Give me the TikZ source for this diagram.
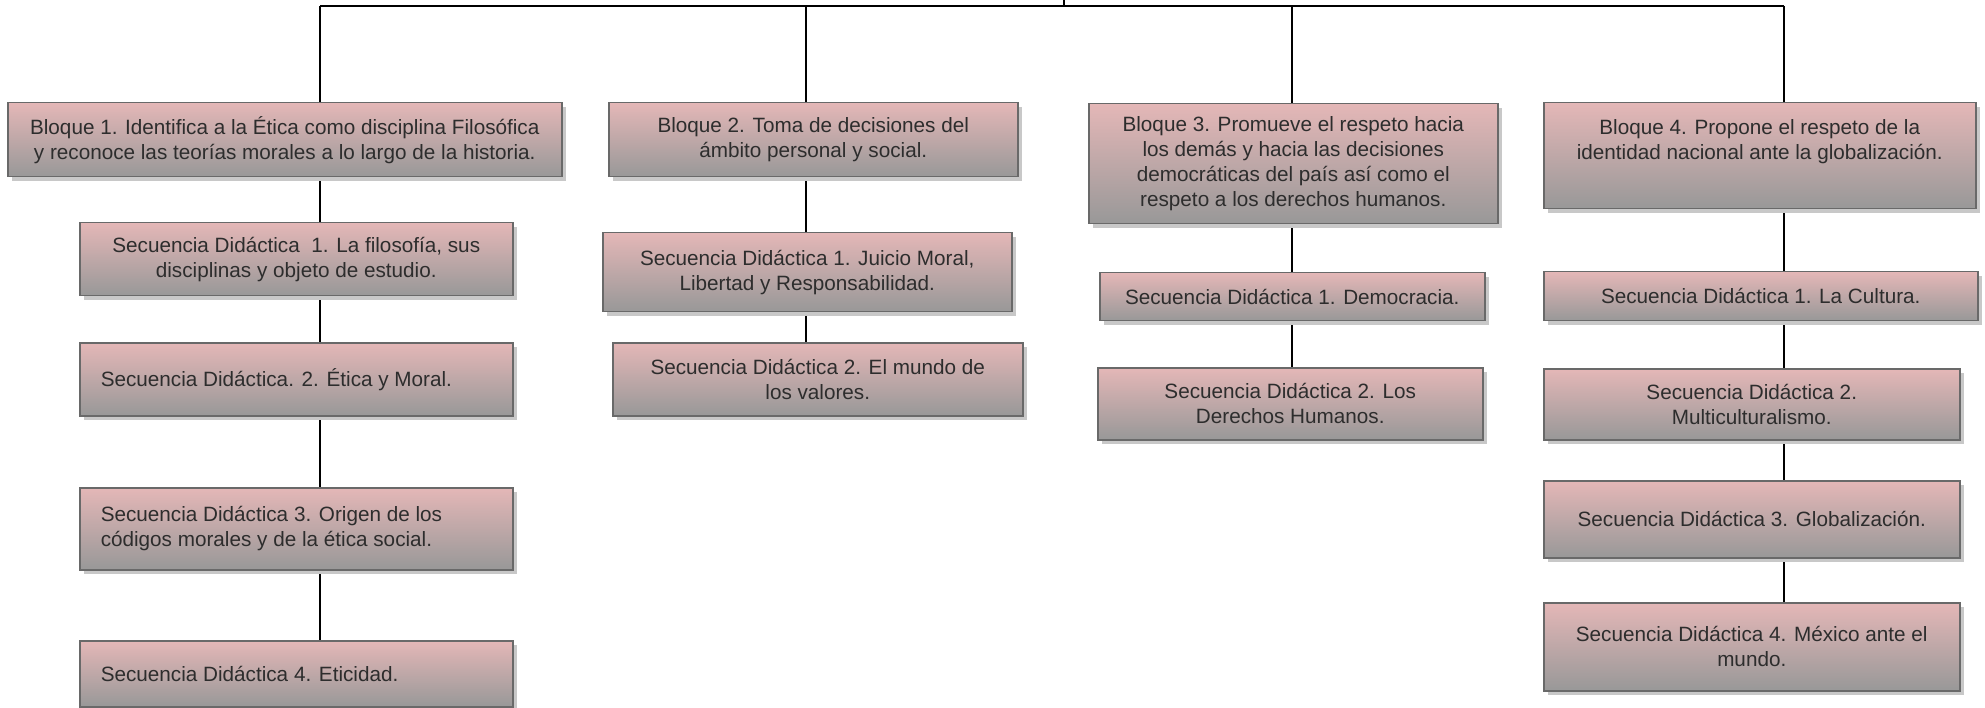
\documentclass[tikz,border=0pt]{standalone}
\usepackage{fontspec}
\setmainfont{Liberation Sans}
\usetikzlibrary{shadows,backgrounds}
\definecolor{boxtop}{RGB}{228,183,183}
\definecolor{boxbot}{RGB}{152,152,152}
\definecolor{boxline}{RGB}{105,105,105}
\definecolor{shadowc}{RGB}{200,200,200}
\definecolor{txtc}{RGB}{45,45,45}
\tikzset{
  card/.style={rectangle, draw=boxline, line width=1.5pt,
    top color=boxtop, bottom color=boxbot,
    drop shadow={shadow xshift=4pt, shadow yshift=-4pt, fill=shadowc, opacity=1},
    anchor=north west, inner sep=0pt,
    font=\fontsize{20.7}{25}\selectfont, text=txtc, align=center},
  cardleft/.style={card, align=flush left, text width=391pt},
  cardtext/.style={inner sep=0pt, font=\fontsize{20.7}{25}\selectfont, text=txtc, align=center},
  link/.style={line width=1.6pt, draw=black},
}
\begin{document}
\begin{tikzpicture}[x=1pt,y=-1pt]
\useasboundingbox (0,0) rectangle (1985,708);
% Bloques
\node[card, minimum width=554pt, minimum height=74pt] (B1) at (7,102)
  {Bloque 1. Identifica a la Ética como disciplina Filosófica\\y reconoce las teorías morales a lo largo de la historia.};
\node[card, minimum width=409pt, minimum height=74pt] (B2) at (608,102)
  {Bloque 2. Toma de decisiones del\\ámbito personal y social.};
\node[card, minimum width=409pt, minimum height=120pt] (B3) at (1088,103)
  {Bloque 3. Promueve el respeto hacia\\los demás y hacia las decisiones\\democráticas del país así como el\\respeto a los derechos humanos.};
\node[card, minimum width=432pt, minimum height=106pt] (B4) at (1543,102) {};
\node[cardtext] (B4t) at ([yshift=14pt]B4.center)
  {Bloque 4. Propone el respeto de la\\identidad nacional ante la globalización.};
% Column 1
\node[card, minimum width=433pt, minimum height=73pt] (S11) at (79,222)
  {Secuencia Didáctica \ 1. La filosofía, sus\\disciplinas y objeto de estudio.};
\node[cardleft, minimum width=433pt, minimum height=73pt] (S12) at (79,342)
  {Secuencia Didáctica. 2. Ética y Moral.};
\node[cardleft, minimum width=433pt, minimum height=82pt] (S13) at (79,487)
  {Secuencia Didáctica 3. Origen de los\\códigos morales y de la ética social.};
\node[cardleft, minimum width=433pt, minimum height=66pt] (S14) at (79,640)
  {Secuencia Didáctica 4. Eticidad.};
% Column 2
\node[card, minimum width=409pt, minimum height=79pt] (S21) at (602,232)
  {Secuencia Didáctica 1. Juicio Moral,\\Libertad y Responsabilidad.};
\node[card, minimum width=410pt, minimum height=73pt] (S22) at (612,342)
  {Secuencia Didáctica 2. El mundo de\\los valores.};
% Column 3
\node[card, minimum width=385pt, minimum height=48pt] (S31) at (1099,272)
  {Secuencia Didáctica 1. Democracia.};
\node[card, minimum width=385pt, minimum height=72pt] (S32) at (1097,367)
  {Secuencia Didáctica 2. Los\\Derechos Humanos.};
% Column 4
\node[card, minimum width=434pt, minimum height=49pt] (S41) at (1543,271)
  {Secuencia Didáctica 1. La Cultura.};
\node[card, minimum width=416pt, minimum height=71pt] (S42) at (1543,368)
  {Secuencia Didáctica 2.\\Multiculturalismo.};
\node[card, minimum width=416pt, minimum height=77pt] (S43) at (1543,480)
  {Secuencia Didáctica 3. Globalización.};
\node[card, minimum width=416pt, minimum height=88pt] (S44) at (1543,602)
  {Secuencia Didáctica 4. México ante el\\mundo.};
% connectors
\coordinate (c1) at (320,6);
\coordinate (c2) at (806,6);
\coordinate (c3) at (1292,6);
\coordinate (c4) at (1784,6);
\coordinate (root) at (1064,0);
\begin{scope}[on background layer]
\draw[link] (c1) -- (c4);
\draw[link] (root) -- (root |- c1);
\draw[link] (c1) -- (c1 |- B1.north);
\draw[link] (c2) -- (c2 |- B2.north);
\draw[link] (c3) -- (c3 |- B3.north);
\draw[link] (c4) -- (c4 |- B4.north);
\draw[link] (B1.south -| c1) -- (S11.north -| c1);
\draw[link] (S11.south -| c1) -- (S12.north -| c1);
\draw[link] (S12.south -| c1) -- (S13.north -| c1);
\draw[link] (S13.south -| c1) -- (S14.north -| c1);
\draw[link] (B2.south -| c2) -- (S21.north -| c2);
\draw[link] (S21.south -| c2) -- (S22.north -| c2);
\draw[link] (B3.south -| c3) -- (S31.north -| c3);
\draw[link] (S31.south -| c3) -- (S32.north -| c3);
\draw[link] (B4.south -| c4) -- (S41.north -| c4);
\draw[link] (S41.south -| c4) -- (S42.north -| c4);
\draw[link] (S42.south -| c4) -- (S43.north -| c4);
\draw[link] (S43.south -| c4) -- (S44.north -| c4);
\end{scope}
\end{tikzpicture}
\end{document}
